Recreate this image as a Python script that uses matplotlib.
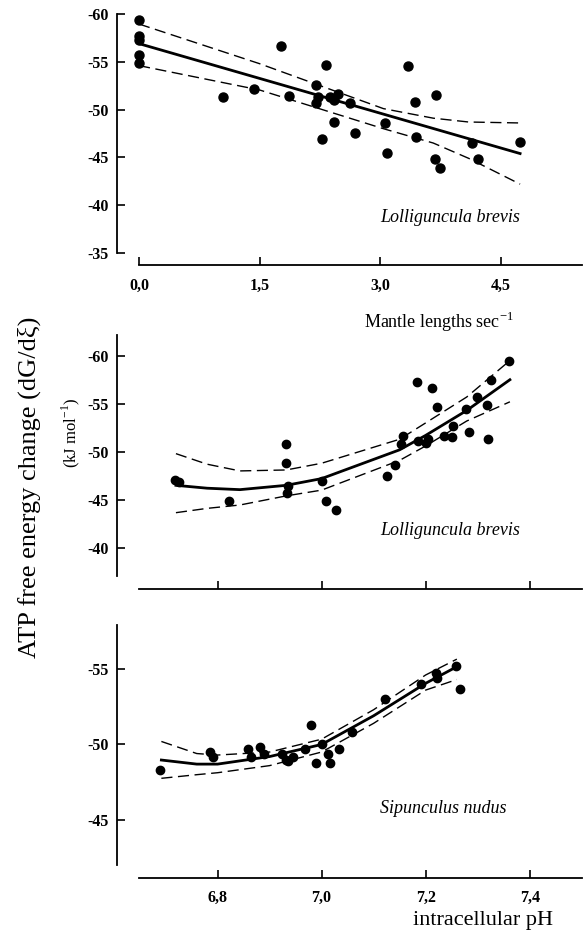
import numpy as np
import matplotlib
matplotlib.use("Agg")
import matplotlib.pyplot as plt

plt.rcParams['font.family'] = ['Liberation Serif', 'DejaVu Serif']
plt.rcParams['mathtext.fontset'] = 'custom'
plt.rcParams['mathtext.rm'] = 'Liberation Serif'

# --- top panel: Lolliguncula brevis, swimming speed ---
speed = [0, 0, 0, 0, 0, 1.05, 1.43, 1.76, 1.87, 2.20, 2.22, 2.20, 2.33, 2.28,
         2.38, 2.42, 2.42, 2.48, 2.62, 2.69, 3.06, 3.09, 3.34, 3.43, 3.69,
         3.45, 3.68, 3.74, 4.14, 4.22, 4.74]
dg_speed = [-59.4, -57.7, -57.3, -55.7, -54.9, -51.3, -52.2, -56.6, -51.4, -52.6,
            -51.35, -50.7, -54.7, -46.9, -51.3, -51.0, -48.7, -51.6, -50.7, -47.5,
            -48.6, -45.5, -54.6, -50.8, -51.5, -47.1, -44.8, -43.9, -46.5, -44.8,
            -46.6]
fit1_x = [0, 4.74]
fit1_y = [-56.9, -45.4]
band1_x = [0, 1.5, 3.04, 3.66, 4.1, 4.74]
band1_up = [-58.95, -54.8, -50.1, -49.1, -48.7, -48.6]
band1_lo = [-54.6, -52.05, -48.0, -46.5, -44.9, -42.2]

# --- middle panel: Lolliguncula brevis, pHi ---
ph_lb = [6.718, 6.726, 6.822, 6.931, 6.931, 6.936, 6.934, 7.0, 7.008, 7.028,
         7.125, 7.141, 7.153, 7.157, 7.183, 7.185, 7.2, 7.204, 7.213, 7.221,
         7.236, 7.251, 7.252, 7.277, 7.283, 7.298, 7.318, 7.32, 7.325, 7.361]
dg_lb = [-47.1, -46.8, -44.9, -50.8, -48.8, -46.4, -45.7, -47.0, -44.9, -43.9,
         -47.5, -48.6, -50.8, -51.6, -57.3, -51.1, -50.9, -51.3, -56.6, -54.7,
         -51.6, -51.5, -52.7, -54.5, -52.1, -55.7, -54.9, -51.3, -57.5, -59.5]
fit2_x = [6.72, 6.78, 6.843, 6.932, 7.0, 7.15, 7.2, 7.279, 7.362]
fit2_y = [-46.5, -46.2, -46.05, -46.5, -47.2, -50.2, -51.7, -54.3, -57.5]
band2_up = [-49.8, -48.7, -48.0, -48.1, -48.8, -51.3, -53.0, -55.7, -59.5]
band2_lo = [-43.65, -44.1, -44.45, -45.4, -46.0, -49.1, -50.6, -53.2, -55.2]

# --- bottom panel: Sipunculus nudus, pHi ---
ph_sn = [6.690, 6.785, 6.792, 6.858, 6.865, 6.881, 6.889, 6.923, 6.931, 6.936,
         6.945, 6.969, 6.980, 6.989, 7.001, 7.013, 7.016, 7.033, 7.058, 7.122,
         7.192, 7.220, 7.222, 7.258, 7.266]
dg_sn = [-48.3, -49.5, -49.2, -49.7, -49.2, -49.8, -49.4, -49.4, -49.0, -48.9,
         -49.2, -49.7, -51.3, -48.75, -50.0, -49.4, -48.8, -49.7, -50.8, -53.0,
         -54.0, -54.7, -54.4, -55.2, -53.7]
fit3_x = [6.692, 6.76, 6.8, 6.9, 7.0, 7.1, 7.2, 7.26]
fit3_y = [-48.97, -48.7, -48.7, -49.2, -50.0, -51.9, -54.05, -55.15]
band3_up = [-50.2, -49.4, -49.3, -49.5, -50.35, -52.3, -54.6, -55.65]
band3_lo = [-47.76, -48.0, -48.13, -48.6, -49.5, -51.4, -53.6, -54.3]

ph_ticks = [6.8, 7.0, 7.2, 7.4]
ph_labels = ['6,8', '7,0', '7,2', '7,4']

fig = plt.figure(figsize=(5.87, 9.34), dpi=100)
W, H = 587, 934


def add_ax(x0, x1, ytop, ybot):
    return fig.add_axes([x0 / W, 1 - ybot / H, (x1 - x0) / W, (ybot - ytop) / H])


def style(ax, xb, yb, yticks):
    for s in ['top', 'right']:
        ax.spines[s].set_visible(False)
    for s in ['left', 'bottom']:
        ax.spines[s].set_linewidth(1.3)
    ax.spines['left'].set_bounds(*yb)
    ax.spines['bottom'].set_bounds(*xb)
    ax.set_yticks(yticks)
    ax.set_yticklabels([str(v) for v in yticks])
    ax.tick_params(direction='in', length=5.5, width=1.2, labelsize=11.5)
    ax.tick_params(axis='y', pad=6)
    ax.tick_params(axis='x', pad=9)
    for lab in ax.get_xticklabels() + ax.get_yticklabels():
        lab.set_fontweight('bold')


def draw(ax, x, y, fx, fy, bx, bup, blo, ms):
    ax.plot(x, y, 'o', color='black', ms=ms, mec='black')
    ax.plot(fx, fy, color='black', lw=2.0)
    ax.plot(bx, bup, color='black', lw=1.0, dashes=(8, 4))
    ax.plot(bx, blo, color='black', lw=1.0, dashes=(8, 4))


# top
ax1 = add_ax(117, 582, 14, 265)
draw(ax1, speed, dg_speed, fit1_x, fit1_y, band1_x, band1_up, band1_lo, 6.5)
ax1.set_xlim(-0.274, 5.51)
ax1.set_ylim(-33.74, -60)
ax1.set_xticks([0, 1.5, 3.0, 4.5])
ax1.set_xticklabels(['0,0', '1,5', '3,0', '4,5'])
style(ax1, (0, 5.51), (-60, -35), [-60, -55, -50, -45, -40, -35])
ax1.text(3.87, -38.66, 'Lolliguncula brevis', style='italic', fontsize=13,
         ha='center', va='center')

# middle
ax2 = add_ax(117, 582, 335, 589)
draw(ax2, ph_lb, dg_lb, fit2_x, fit2_y, fit2_x, band2_up, band2_lo, 6)
ax2.set_xlim(6.6067, 7.5006)
ax2.set_ylim(-35.70, -62.16)
ax2.set_xticks(ph_ticks)
ax2.set_xticklabels([])
style(ax2, (6.649, 7.5006), (-62.16, -37.05), [-60, -55, -50, -45, -40])
ax2.text(7.247, -41.84, 'Lolliguncula brevis', style='italic', fontsize=13,
         ha='center', va='center')

# bottom
ax3 = add_ax(117, 582, 625, 877.7)
draw(ax3, ph_sn, dg_sn, fit3_x, fit3_y, fit3_x, band3_up, band3_lo, 6)
ax3.set_xlim(6.6067, 7.5006)
ax3.set_ylim(-41.18, -57.91)
ax3.set_xticks(ph_ticks)
ax3.set_xticklabels(ph_labels)
style(ax3, (6.649, 7.5006), (-57.91, -42.0), [-55, -50, -45])
ax3.text(7.234, -45.73, 'Sipunculus nudus', style='italic', fontsize=13,
         ha='center', va='center')

fig.text(439 / W, 1 - 322 / H, r'Mantle lengths sec$^{\mathrm{-1}}$', fontsize=13,
         ha='center', va='center')
fig.text(483 / W, 1 - 921 / H, 'intracellular pH', fontsize=16,
         ha='center', va='center')
fig.text(29 / W, 1 - 487 / H, 'ATP free energy change (dG/dξ)', fontsize=19,
         rotation=90, ha='center', va='center')
fig.text(71 / W, 1 - 433 / H, r'(kJ mol$^{\mathrm{-1}}$)', fontsize=12,
         rotation=90, ha='center', va='center')

plt.savefig('out.png', dpi=100)
